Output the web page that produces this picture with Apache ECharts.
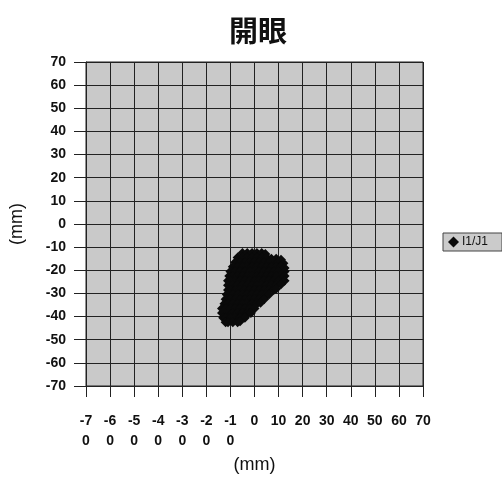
<!DOCTYPE html>
<html>
<head>
<meta charset="utf-8">
<script src="https://cdn.jsdelivr.net/npm/echarts@6/dist/echarts.min.js"></script>
<style>
  html, body { margin: 0; padding: 0; background: #fff; }
  #main { width: 502px; height: 479px; }
</style>
</head>
<body>
<div id="main"></div>
<script>
var titleText = "開眼";
var seriesName = "I1/J1";
var axisName = "(mm)";
var axisMin = -70;
var axisMax = 70;
var axisStep = 10;

var points = [
  [-5, -12.5], [-3, -12.5], [-1, -12.5], [1, -12.5], [3, -12.5], [4.5, -13],
  [-7, -14.5], [-5, -14.5], [-3, -14.5], [-1, -14.5], [1, -14.5], [3, -14.5], [5, -14.5], [7, -15], [9, -15], [11, -15.5],
  [-8, -16.5], [-6, -16.5], [-4, -16.5], [-2, -16.5], [0, -16.5], [2, -16.5], [4, -16.5], [6, -16.5], [8, -16.5], [10, -16.5], [12, -17],
  [-9, -18.5], [-7, -18.5], [-5, -18.5], [-3, -18.5], [-1, -18.5], [1, -18.5], [3, -18.5], [5, -18.5], [7, -18.5], [9, -18.5], [11, -18.5], [12.5, -19],
  [-10, -20.5], [-8, -20.5], [-6, -20.5], [-4, -20.5], [-2, -20.5], [0, -20.5], [2, -20.5], [4, -20.5], [6, -20.5], [8, -20.5], [10, -20.5], [12.5, -20.5],
  [-10.5, -22.5], [-9, -22.5], [-7, -22.5], [-5, -22.5], [-3, -22.5], [-1, -22.5], [1, -22.5], [3, -22.5], [5, -22.5], [7, -22.5], [9, -22.5], [11, -22.5], [12.5, -22.5],
  [-11, -24.5], [-10, -24.5], [-8, -24.5], [-6, -24.5], [-4, -24.5], [-2, -24.5], [0, -24.5], [2, -24.5], [4, -24.5], [6, -24.5], [8, -24.5], [10, -24.5], [12.5, -24.5],
  [-11, -26.5], [-9, -26.5], [-7, -26.5], [-5, -26.5], [-3, -26.5], [-1, -26.5], [1, -26.5], [3, -26.5], [5, -26.5], [7, -26.5], [9, -26.5], [11, -26],
  [-11, -28.5], [-10, -28.5], [-8, -28.5], [-6, -28.5], [-4, -28.5], [-2, -28.5], [0, -28.5], [2, -28.5], [4, -28.5], [6, -28.5], [8, -28.5], [9, -28],
  [-11.5, -30.5], [-9, -30.5], [-7, -30.5], [-5, -30.5], [-3, -30.5], [-1, -30.5], [1, -30.5], [3, -30.5], [5, -30.5], [6, -30.5],
  [-12, -32.5], [-10, -32.5], [-8, -32.5], [-6, -32.5], [-4, -32.5], [-2, -32.5], [0, -32.5], [2, -32.5], [4, -32.5],
  [-12.5, -34.5], [-11, -34.5], [-9, -34.5], [-7, -34.5], [-5, -34.5], [-3, -34.5], [-1, -34.5], [1, -34.5], [2.5, -34],
  [-13.5, -36.5], [-12, -36.5], [-10, -36.5], [-8, -36.5], [-6, -36.5], [-4, -36.5], [-2, -36.5], [0, -36.5],
  [-13.5, -38.5], [-11, -38.5], [-9, -38.5], [-7, -38.5], [-5, -38.5], [-3, -38.5], [-1.5, -38.5],
  [-13, -40.5], [-12, -40.5], [-10, -40.5], [-8, -40.5], [-6, -40.5], [-4, -40.5],
  [-12, -42.5], [-11, -42.5], [-9, -42.5], [-7, -42.5], [-6, -42]
];

var dom = document.getElementById("main");
var myChart = echarts.init(dom, null, { renderer: "canvas" });

var option = {
  animation: false,
  title: {
    text: titleText,
    left: 253,
    top: 11,
    textAlign: "center",
    textStyle: {
      fontFamily: "Noto Sans CJK JP",
      fontSize: 29,
      fontWeight: "bold",
      color: "#111"
    }
  },
  legend: {
    data: [seriesName],
    left: 443,
    top: 233,
    orient: "vertical",
    icon: "diamond",
    itemWidth: 11,
    itemHeight: 11,
    itemGap: 4,
    padding: [3, 14, 3, 5],
    backgroundColor: "#cbcbcb",
    borderColor: "#444",
    borderWidth: 1,
    borderRadius: 0,
    textStyle: {
      fontFamily: "Liberation Sans",
      fontSize: 12,
      color: "#111",
      padding: [0, 0, 0, -2]
    }
  },
  grid: {
    left: 85,
    right: 79,
    top: 62,
    bottom: 92,
    show: true,
    backgroundColor: "#c9c9c9",
    borderColor: "#222",
    borderWidth: 1
  },
  xAxis: {
    type: "value",
    min: axisMin,
    max: axisMax,
    interval: axisStep,
    name: axisName,
    nameLocation: "middle",
    nameGap: 70,
    nameTextStyle: { fontFamily: "Liberation Sans", fontSize: 18, color: "#111" },
    axisLine: { show: true, onZero: false, lineStyle: { color: "#222", width: 1 } },
    axisTick: { show: true, inside: false, length: 11, lineStyle: { color: "#222" } },
    splitLine: { show: true, lineStyle: { color: "#222", width: 1 } },
    axisLabel: {
      margin: 25,
      fontFamily: "Liberation Sans",
      fontSize: 14,
      fontWeight: "bold",
      lineHeight: 20,
      color: "#111",
      showMinLabel: true,
      showMaxLabel: true,
      formatter: function (v) {
        var s = String(v);
        if (v < 0) {
          return s.slice(0, -1) + "\n" + s.slice(-1);
        }
        return s;
      }
    }
  },
  yAxis: {
    type: "value",
    min: axisMin,
    max: axisMax,
    interval: axisStep,
    name: axisName,
    nameLocation: "middle",
    nameGap: 60,
    nameTextStyle: { fontFamily: "Liberation Sans", fontSize: 18, color: "#111" },
    axisLine: { show: true, onZero: false, lineStyle: { color: "#222", width: 1 } },
    axisTick: { show: true, inside: false, length: 12, lineStyle: { color: "#222" } },
    splitLine: { show: true, lineStyle: { color: "#222", width: 1 } },
    axisLabel: {
      margin: 20,
      fontFamily: "Liberation Sans",
      fontSize: 14,
      fontWeight: "bold",
      color: "#111",
      showMinLabel: true,
      showMaxLabel: true
    }
  },
  series: [
    {
      name: seriesName,
      type: "scatter",
      symbol: "diamond",
      symbolSize: 10,
      itemStyle: { color: "#0a0a0a", opacity: 1 },
      data: points
    }
  ]
};

myChart.setOption(option);
</script>
</body>
</html>
